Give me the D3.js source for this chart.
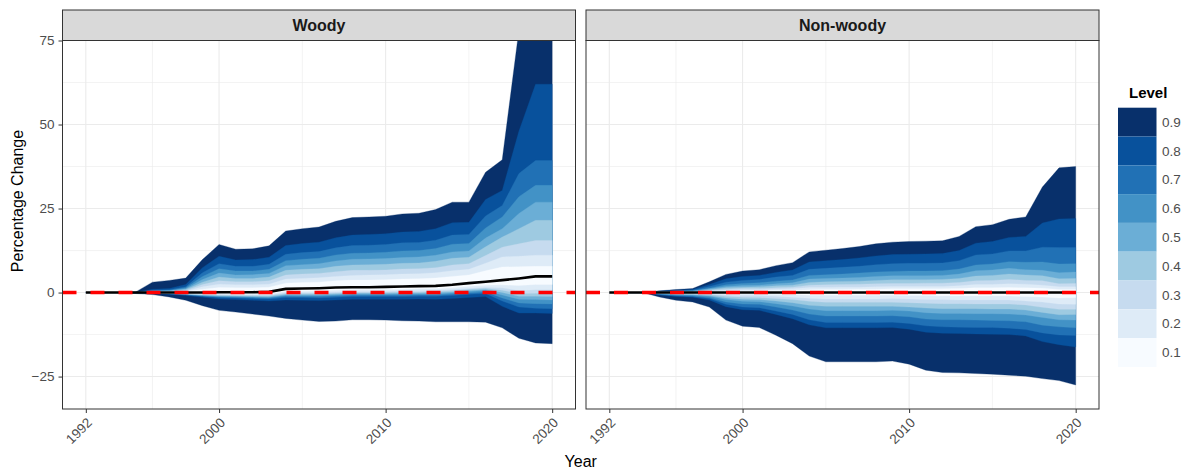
<!DOCTYPE html>
<html>
<head>
<meta charset="utf-8">
<script src="https://cdn.jsdelivr.net/npm/d3@7"></script>
<style>
  body { margin: 0; background: #fff; }
  svg { display: block; font-family: "Liberation Sans", Arial, sans-serif; }
</style>
</head>
<body>
<svg id="chart" width="1195" height="474"></svg>
<script>
// ---- data ----
const years = [1992, 1993, 1994, 1995, 1996, 1997, 1998, 1999, 2000, 2001, 2002, 2003, 2004, 2005, 2006,
  2007, 2008, 2009, 2010, 2011, 2012, 2013, 2014, 2015, 2016, 2017, 2018, 2019, 2020];
const facets = ["Woody", "Non-woody"];
const levels = ["0.1", "0.2", "0.3", "0.4", "0.5", "0.6", "0.7", "0.8", "0.9"];
const xTicks = [1992, 2000, 2010, 2020];
const xMinor = [1996, 2005, 2015];
const yTicks = [-25, 0, 25, 50, 75];
const yMinor = [-12.5, 12.5, 37.5, 62.5];

// each row = one year, columns = upper / lower bound of levels 0.1 ... 0.9
const woodyMedian = [0, 0, 0, 0, 0, 0, 0, 0, 0.1, 0.1, 0.1, 0.2, 1.1, 1.2, 1.3, 1.5, 1.6, 1.6, 1.7, 1.8,
  1.9, 2.0, 2.3, 2.8, 3.2, 3.7, 4.2, 4.8, 4.8];
const woodyUpper = [
  [0, 0, 0, 0, 0, 0, 0, 0, 0],
  [0, 0, 0, 0, 0, 0, 0, 0, 0],
  [0, 0, 0, 0, 0, 0, 0, 0, 0],
  [0, 0, 0, 0, 0.1, 0.1, 0.1, 0.1, 0.2],
  [0.1, 0.2, 0.2, 0.3, 0.4, 0.5, 0.7, 1.0, 3.1],
  [0.1, 0.2, 0.3, 0.4, 0.5, 0.6, 0.8, 1.2, 3.6],
  [0.3, 0.4, 0.6, 0.9, 1.1, 1.4, 1.7, 2.4, 4.3],
  [1.0, 1.7, 2.4, 3.1, 3.9, 4.8, 5.9, 7.4, 9.8],
  [1.5, 2.5, 3.5, 4.6, 5.8, 7.1, 8.6, 10.8, 14.3],
  [1.4, 2.3, 3.2, 4.2, 5.2, 6.4, 7.8, 9.7, 12.9],
  [1.4, 2.3, 3.2, 4.2, 5.3, 6.4, 7.8, 9.8, 13.0],
  [1.6, 2.5, 3.5, 4.6, 5.7, 6.9, 8.4, 10.5, 13.9],
  [2.8, 4.0, 5.2, 6.6, 8.0, 9.5, 11.4, 14.0, 18.3],
  [3.0, 4.2, 5.5, 6.9, 8.3, 9.9, 11.9, 14.6, 19.0],
  [3.1, 4.4, 5.7, 7.1, 8.6, 10.2, 12.2, 15.0, 19.5],
  [3.5, 4.8, 6.2, 7.8, 9.4, 11.2, 13.3, 16.3, 21.2],
  [3.7, 5.1, 6.6, 8.2, 9.9, 11.7, 14.0, 17.1, 22.3],
  [3.7, 5.2, 6.6, 8.3, 10.0, 11.8, 14.1, 17.3, 22.5],
  [3.8, 5.3, 6.7, 8.4, 10.1, 12.0, 14.3, 17.5, 22.7],
  [4.0, 5.5, 7.0, 8.7, 10.4, 12.4, 14.8, 18.0, 23.4],
  [4.1, 5.6, 7.1, 8.8, 10.6, 12.5, 14.9, 18.2, 23.6],
  [4.3, 5.9, 7.4, 9.3, 11.1, 13.1, 15.6, 19.0, 24.7],
  [4.8, 6.5, 8.2, 10.2, 12.1, 14.4, 17.1, 20.8, 26.9],
  [5.2, 6.9, 8.6, 10.5, 12.4, 14.6, 17.3, 20.9, 26.9],
  [6.5, 8.7, 11.0, 13.6, 16.2, 19.2, 22.8, 27.7, 35.8],
  [7.6, 10.6, 13.5, 16.5, 19.0, 22.5, 25.9, 30.4, 39.5],
  [7.7, 10.8, 14.5, 19.0, 23.5, 28.5, 35.4, 48.0, 78.0],
  [7.8, 11.1, 15.5, 21.5, 26.9, 31.9, 39.3, 62.0, 85.0],
  [7.8, 11.1, 15.5, 21.5, 26.9, 31.9, 39.3, 62.0, 88.0]
];
const woodyLower = [
  [0, 0, 0, 0, 0, 0, 0, 0, 0],
  [0, 0, 0, 0, 0, 0, 0, 0, 0],
  [0, 0, 0, 0, 0, 0, 0, 0, 0],
  [0, 0, 0, 0, -0.1, -0.1, -0.1, -0.1, -0.3],
  [0, -0.1, -0.1, -0.1, -0.1, -0.2, -0.2, -0.2, -0.6],
  [-0.1, -0.2, -0.2, -0.2, -0.3, -0.3, -0.4, -0.5, -1.3],
  [-0.2, -0.3, -0.4, -0.4, -0.5, -0.6, -0.7, -0.9, -2.3],
  [-0.3, -0.5, -0.6, -0.7, -0.9, -1.0, -1.1, -1.4, -3.9],
  [-0.3, -0.6, -0.8, -0.9, -1.1, -1.3, -1.5, -1.9, -5.3],
  [-0.4, -0.7, -0.8, -1.0, -1.2, -1.4, -1.6, -2.1, -5.8],
  [-0.4, -0.7, -0.9, -1.1, -1.3, -1.5, -1.8, -2.3, -6.4],
  [-0.4, -0.7, -0.9, -1.2, -1.4, -1.6, -1.9, -2.5, -7.0],
  [0.4, 0.0, -0.3, -0.6, -0.8, -1.1, -1.5, -2.2, -7.7],
  [0.4, 0.0, -0.3, -0.6, -0.9, -1.2, -1.5, -2.3, -8.2],
  [0.5, 0.0, -0.3, -0.6, -0.9, -1.2, -1.6, -2.4, -8.6],
  [0.7, 0.2, -0.1, -0.4, -0.7, -1.0, -1.4, -2.2, -8.5],
  [0.8, 0.3, 0.0, -0.2, -0.5, -0.8, -1.2, -2.0, -8.1],
  [0.8, 0.3, 0.0, -0.2, -0.5, -0.8, -1.2, -2.0, -8.1],
  [0.9, 0.4, 0.1, -0.2, -0.5, -0.8, -1.2, -2.0, -8.2],
  [1.0, 0.5, 0.2, -0.1, -0.4, -0.8, -1.2, -2.0, -8.4],
  [1.1, 0.5, 0.2, -0.1, -0.4, -0.7, -1.1, -1.9, -8.5],
  [1.1, 0.6, 0.3, 0.0, -0.4, -0.7, -1.1, -2.0, -8.7],
  [1.4, 0.9, 0.5, 0.2, -0.1, -0.5, -0.9, -1.8, -8.7],
  [1.9, 1.3, 1.0, 0.6, 0.3, -0.1, -0.5, -1.5, -8.7],
  [2.2, 1.6, 1.3, 0.9, 0.6, 0.2, -0.3, -1.2, -8.8],
  [2.3, 1.4, 0.7, 0.0, -0.7, -1.6, -2.5, -4.1, -10.5],
  [2.1, 0.6, -0.3, -1.1, -2.0, -3.1, -4.3, -6.1, -13.6],
  [2.4, 0.8, -0.2, -1.1, -2.1, -3.3, -4.7, -6.1, -15.0],
  [2.4, 0.8, -0.2, -1.2, -2.2, -3.4, -4.8, -6.2, -15.2]
];

const nonwoodyMedian = [0, 0, 0, 0, 0, 0, 0, 0, 0, 0, 0, 0, 0, 0, 0, 0, 0, 0, 0, 0,
  0, 0, 0, 0, 0, 0, 0, 0, 0];
const nonwoodyUpper = [
  [0, 0, 0, 0, 0, 0, 0, 0, 0],
  [0, 0, 0, 0, 0, 0, 0, 0, 0],
  [0, 0, 0, 0, 0, 0, 0, 0, 0],
  [0.0, 0.1, 0.1, 0.1, 0.2, 0.2, 0.3, 0.4, 0.5],
  [0.1, 0.1, 0.2, 0.2, 0.3, 0.4, 0.5, 0.7, 0.9],
  [0.1, 0.1, 0.2, 0.3, 0.4, 0.5, 0.7, 0.9, 1.2],
  [0.2, 0.4, 0.6, 0.8, 1.1, 1.3, 1.8, 2.4, 3.2],
  [0.4, 0.6, 1.0, 1.4, 1.8, 2.3, 3.1, 4.1, 5.4],
  [0.4, 0.8, 1.2, 1.6, 2.1, 2.7, 3.6, 4.8, 6.4],
  [0.5, 0.8, 1.2, 1.7, 2.2, 2.9, 3.9, 5.1, 6.8],
  [0.6, 1.0, 1.4, 2.0, 2.6, 3.4, 4.6, 6.0, 8.0],
  [0.6, 1.1, 1.6, 2.2, 2.9, 3.7, 5.1, 6.7, 8.9],
  [0.8, 1.5, 2.2, 3.0, 4.0, 5.1, 6.9, 9.1, 12.1],
  [0.9, 1.5, 2.3, 3.2, 4.2, 5.3, 7.2, 9.5, 12.6],
  [0.9, 1.6, 2.4, 3.3, 4.3, 5.5, 7.5, 9.8, 13.1],
  [1.0, 1.6, 2.5, 3.4, 4.5, 5.8, 7.8, 10.3, 13.7],
  [1.0, 1.7, 2.6, 3.6, 4.8, 6.1, 8.3, 10.9, 14.5],
  [1.1, 1.8, 2.7, 3.8, 5.0, 6.3, 8.6, 11.3, 15.0],
  [1.1, 1.8, 2.7, 3.8, 5.0, 6.4, 8.7, 11.4, 15.2],
  [1.1, 1.8, 2.8, 3.8, 5.0, 6.4, 8.7, 11.5, 15.3],
  [1.1, 1.8, 2.8, 3.9, 5.1, 6.5, 8.8, 11.6, 15.4],
  [1.2, 2.0, 3.0, 4.2, 5.5, 7.0, 9.5, 12.5, 16.7],
  [1.4, 2.4, 3.5, 4.9, 6.5, 8.2, 11.2, 14.7, 19.6],
  [1.4, 2.4, 3.6, 5.1, 6.7, 8.5, 11.5, 15.2, 20.2],
  [1.5, 2.6, 3.9, 5.5, 7.2, 9.2, 12.4, 16.4, 21.8],
  [1.4, 2.5, 3.6, 5.2, 6.8, 9.0, 12.4, 16.7, 22.5],
  [1.3, 2.2, 3.5, 5.0, 6.6, 9.1, 13.5, 20.7, 31.4],
  [0.9, 1.7, 2.6, 4.1, 5.9, 8.5, 13.4, 21.9, 37.1],
  [0.9, 1.7, 2.7, 4.2, 6.1, 8.6, 13.4, 22.0, 37.5]
];
const nonwoodyLower = [
  [0, 0, 0, 0, 0, 0, 0, 0, 0],
  [0, 0, 0, 0, 0, 0, 0, 0, 0],
  [0, 0, 0, 0, 0, 0, 0, 0, 0],
  [-0.1, -0.1, -0.2, -0.3, -0.3, -0.4, -0.6, -0.7, -1.3],
  [-0.1, -0.2, -0.3, -0.5, -0.6, -0.8, -1.0, -1.2, -2.3],
  [-0.1, -0.3, -0.4, -0.6, -0.7, -1.0, -1.2, -1.4, -2.8],
  [-0.2, -0.4, -0.6, -0.9, -1.1, -1.5, -1.8, -2.2, -4.3],
  [-0.3, -0.7, -1.1, -1.6, -2.1, -2.8, -3.5, -4.2, -8.2],
  [-0.4, -0.9, -1.4, -2.0, -2.6, -3.4, -4.3, -5.1, -10.0],
  [-0.4, -0.9, -1.5, -2.1, -2.7, -3.5, -4.5, -5.3, -10.4],
  [-0.5, -1.1, -1.8, -2.5, -3.3, -4.3, -5.5, -6.5, -12.7],
  [-0.6, -1.4, -2.1, -3.0, -4.0, -5.2, -6.5, -7.8, -15.2],
  [-0.8, -1.7, -2.6, -3.8, -4.9, -6.4, -8.1, -9.6, -18.9],
  [-0.8, -1.9, -2.9, -4.1, -5.4, -7.0, -8.9, -10.5, -20.6],
  [-0.8, -1.9, -2.9, -4.1, -5.4, -7.0, -8.9, -10.5, -20.6],
  [-0.8, -1.9, -2.9, -4.1, -5.4, -7.0, -8.9, -10.5, -20.6],
  [-0.8, -1.9, -2.9, -4.1, -5.4, -7.0, -8.9, -10.5, -20.6],
  [-0.8, -1.8, -2.9, -4.1, -5.3, -6.9, -8.8, -10.4, -20.4],
  [-0.9, -1.9, -3.0, -4.3, -5.5, -7.2, -9.2, -10.9, -21.3],
  [-0.9, -2.1, -3.2, -4.6, -6.0, -7.9, -9.9, -11.8, -23.1],
  [-1.0, -2.1, -3.3, -4.8, -6.2, -8.1, -10.2, -12.1, -23.8],
  [-1.0, -2.2, -3.3, -4.8, -6.2, -8.1, -10.3, -12.2, -23.9],
  [-1.0, -2.2, -3.4, -4.8, -6.3, -8.2, -10.4, -12.3, -24.1],
  [-1.0, -2.2, -3.4, -4.9, -6.3, -8.3, -10.4, -12.4, -24.3],
  [-1.0, -2.2, -3.4, -4.9, -6.4, -8.4, -10.6, -12.5, -24.6],
  [-1.2, -2.5, -3.7, -5.2, -6.7, -8.7, -11.0, -12.9, -24.9],
  [-1.3, -2.8, -4.4, -5.9, -7.4, -9.7, -12.0, -14.6, -25.6],
  [-1.6, -3.4, -5.0, -6.6, -8.1, -10.2, -12.6, -15.5, -26.2],
  [-1.5, -3.5, -5.0, -6.5, -8.2, -10.5, -12.8, -16.2, -27.5]
];

const panelData = [
  { median: woodyMedian, upper: woodyUpper, lower: woodyLower },
  { median: nonwoodyMedian, upper: nonwoodyUpper, lower: nonwoodyLower }
];

// ---- styles / layout ----
const blues = ["#F7FBFF", "#DEEBF7", "#C6DBEF", "#9ECAE1", "#6BAED6", "#4292C6", "#2171B5", "#08519C", "#08306B"];
const panelTop = 40.5, panelBottom = 409, stripTop = 10;
const panelX = [[62.5, 575.5], [586, 1099]];
const tickColor = "#4D4D4D";

const svg = d3.select("#chart");
svg.append("rect").attr("width", 1195).attr("height", 474).attr("fill", "#fff");

const y = d3.scaleLinear().domain([-34.65, 75]).range([panelBottom, panelTop]);

facets.forEach((name, p) => {
  const [left, right] = panelX[p];
  const x = d3.scaleLinear().domain([1990.6, 2021.4]).range([left, right]);
  const d = panelData[p];
  const rows = years.map((yr, i) => ({ yr, i }));

  svg.append("clipPath").attr("id", "clip" + p)
    .append("rect")
    .attr("x", left).attr("y", panelTop)
    .attr("width", right - left).attr("height", panelBottom - panelTop);

  const g = svg.append("g");
  const plot = g.append("g").attr("clip-path", `url(#clip${p})`);

  // grid
  plot.selectAll(".ymin").data(yMinor).join("line")
    .attr("x1", left).attr("x2", right)
    .attr("y1", v => y(v)).attr("y2", v => y(v))
    .attr("stroke", "#EBEBEB").attr("stroke-width", 0.6);
  plot.selectAll(".xmin").data(xMinor).join("line")
    .attr("y1", panelTop).attr("y2", panelBottom)
    .attr("x1", v => x(v)).attr("x2", v => x(v))
    .attr("stroke", "#EBEBEB").attr("stroke-width", 0.6);
  plot.selectAll(".ymaj").data(yTicks).join("line")
    .attr("x1", left).attr("x2", right)
    .attr("y1", v => y(v)).attr("y2", v => y(v))
    .attr("stroke", "#EBEBEB").attr("stroke-width", 1.1);
  plot.selectAll(".xmaj").data(xTicks).join("line")
    .attr("y1", panelTop).attr("y2", panelBottom)
    .attr("x1", v => x(v)).attr("x2", v => x(v))
    .attr("stroke", "#EBEBEB").attr("stroke-width", 1.1);

  // fan bands, widest first
  for (let k = levels.length - 1; k >= 0; k--) {
    const area = d3.area()
      .x(r => x(r.yr))
      .y0(r => y(d.lower[r.i][k]))
      .y1(r => y(d.upper[r.i][k]));
    plot.append("path").datum(rows)
      .attr("d", area)
      .attr("fill", blues[k])
      .attr("stroke", blues[k]).attr("stroke-width", 0.3);
  }

  // median line
  plot.append("path").datum(rows)
    .attr("d", d3.line().x(r => x(r.yr)).y(r => y(d.median[r.i])))
    .attr("fill", "none").attr("stroke", "#000").attr("stroke-width", 2.6);

  // zero reference
  plot.append("line")
    .attr("x1", left).attr("x2", right)
    .attr("y1", y(0)).attr("y2", y(0))
    .attr("stroke", "#FF0000").attr("stroke-width", 3.6)
    .attr("stroke-dasharray", "14,14");

  // panel border
  g.append("rect")
    .attr("x", left).attr("y", panelTop)
    .attr("width", right - left).attr("height", panelBottom - panelTop)
    .attr("fill", "none").attr("stroke", "#333").attr("stroke-width", 1);

  // strip
  g.append("rect")
    .attr("x", left).attr("y", stripTop)
    .attr("width", right - left).attr("height", panelTop - stripTop)
    .attr("fill", "#D9D9D9").attr("stroke", "#333").attr("stroke-width", 1);
  g.append("text")
    .attr("x", (left + right) / 2).attr("y", 31)
    .attr("text-anchor", "middle")
    .attr("font-size", 16).attr("font-weight", "bold").attr("fill", "#1A1A1A")
    .text(name);

  // x axis
  const xAxis = g.append("g")
    .attr("transform", `translate(0,${panelBottom})`)
    .call(d3.axisBottom(x).tickValues(xTicks).tickSize(4).tickFormat(d3.format("d")));
  xAxis.select(".domain").remove();
  xAxis.selectAll(".tick line").attr("stroke", "#333");
  xAxis.selectAll(".tick text")
    .attr("y", null).attr("dy", null)
    .attr("text-anchor", "end")
    .attr("transform", "translate(6.5,14.5) rotate(-45)")
    .attr("font-family", "Liberation Sans, Arial, sans-serif")
    .attr("font-size", 13.5).attr("fill", tickColor);

  // y axis only on first panel
  if (p === 0) {
    const yAxis = g.append("g")
      .attr("transform", `translate(${left},0)`)
      .call(d3.axisLeft(y).tickValues(yTicks).tickSize(4));
    yAxis.select(".domain").remove();
    yAxis.selectAll(".tick line").attr("stroke", "#333");
    yAxis.selectAll(".tick text")
      .attr("x", -8)
      .attr("font-family", "Liberation Sans, Arial, sans-serif")
      .attr("font-size", 13.5).attr("fill", tickColor);
  }
});

// axis titles
svg.append("text")
  .attr("transform", "translate(22.5,201) rotate(-90)")
  .attr("text-anchor", "middle")
  .attr("font-size", 16).attr("fill", "#000")
  .text("Percentage Change");
svg.append("text")
  .attr("x", 580.75).attr("y", 467)
  .attr("text-anchor", "middle")
  .attr("font-size", 16).attr("fill", "#000")
  .text("Year");

// legend
const legend = svg.append("g").attr("transform", "translate(1118,0)");
legend.append("text")
  .attr("x", 11).attr("y", 98)
  .attr("font-size", 15).attr("font-weight", "bold").attr("fill", "#000")
  .text("Level");
const keyH = 28.8, keyTop = 107.7;
const legendOrder = levels.slice().reverse();
legend.selectAll("rect.key").data(legendOrder).join("rect")
  .attr("class", "key")
  .attr("x", 0).attr("y", (l, i) => keyTop + i * keyH)
  .attr("width", 38.5).attr("height", keyH)
  .attr("fill", l => blues[levels.indexOf(l)]);
legend.selectAll("text.lab").data(legendOrder).join("text")
  .attr("class", "lab")
  .attr("x", 44).attr("y", (l, i) => keyTop + i * keyH + keyH / 2)
  .attr("dy", "0.35em")
  .attr("font-size", 13.5).attr("fill", tickColor)
  .text(l => l);
</script>
</body>
</html>
